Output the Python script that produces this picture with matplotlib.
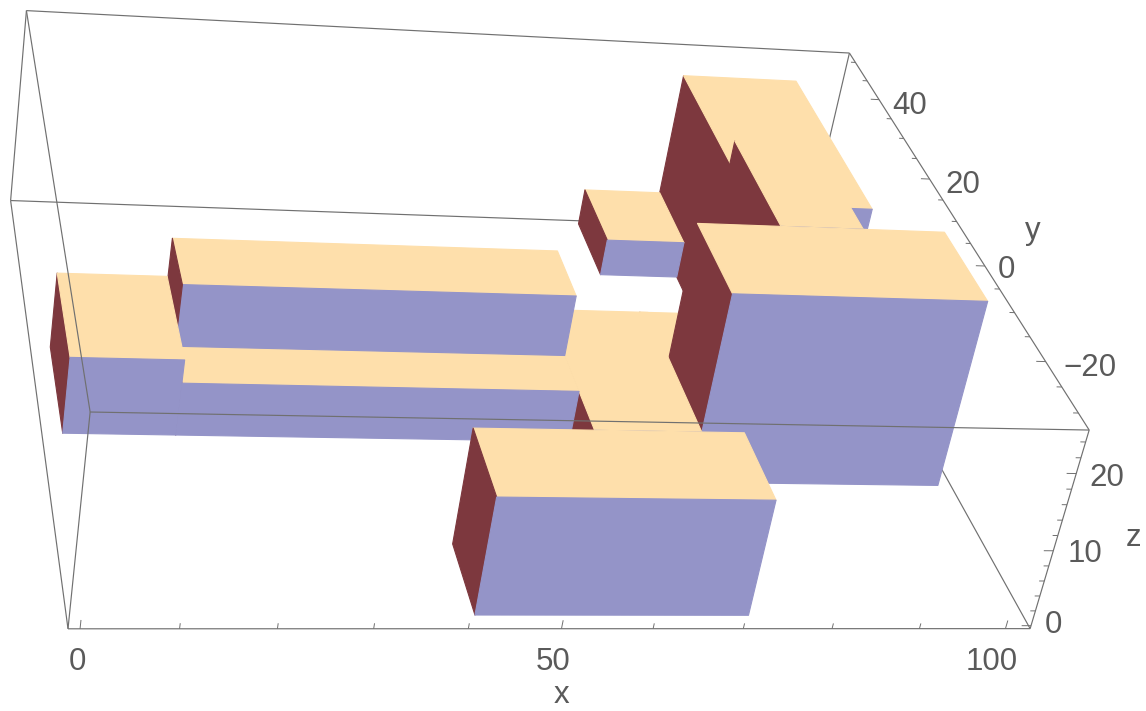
import numpy as np
import matplotlib
matplotlib.use('Agg')
import matplotlib.pyplot as plt
from mpl_toolkits.mplot3d.art3d import Poly3DCollection, Line3DCollection

plt.rcParams['font.family'] = ['Liberation Sans', 'DejaVu Sans']

# boxes, listed back to front
box_x_start = [81, 81, 71, 70, 71, 58.5, 13.4, 13.5, 1, 41]
box_x_end = [96, 91, 81, 81, 101, 71, 58.5, 58.5, 13.4, 71]
box_y_start = [18.6, 8.45, 38.5, 8.45, -6.75, -6.75, 1.1, 8.6, 1.1, -31.4]
box_y_end = [51.1, 28.6, 51.1, 18.6, 8.45, 18.6, 18.6, 18.6, 18.6, -18.9]
box_z_start = [0, 0, 0, 0, 0, 0, 0, 6.8, 0, 0]
box_z_end = [21.9, 24.9, 5, 6.8, 24.9, 6.8, 6.8, 14.8, 9.8, 14.9]

x_range = [-1.2, 102.9]
y_range = [-33.2, 52.6]
z_range = [-0.4, 25.5]

x_ticks = list(range(0, 101, 10))
x_major = [0, 50, 100]
y_ticks = list(range(-30, 51, 5))
y_major = [-20, 0, 20, 40]
z_ticks = list(range(0, 25, 2))
z_major = [0, 10, 20]

TOP = '#fedfab'
FRONT = '#9494c8'
LEFT = '#7d383e'
LINE = '#707070'
TEXT = '#5a5a5a'
FS = 22.5

# camera of the original view, world -> picture pixels
camera = np.array([
    [9.274070, -0.587302, 0.649457, 54.25983],
    [0.4851393, -4.083765, -8.291662, 438.38702],
    [7.741259e-4, 2.463810e-3, -1.491933e-3, 0.9992724],
])
M = np.array([camera[0], camera[1], [0, 0, 0, -1.0], camera[2]])


def project(x, y, z):
    h = camera @ np.array([x, y, z, 1.0])
    return h[0] / h[2], h[1] / h[2]


W, H = 1146, 711
fig = plt.figure(figsize=(W / 100, H / 100), dpi=100)
ax = fig.add_axes([0, (H - W) / 2 / H, 1, W / H], projection='3d', computed_zorder=False)
ax.get_proj = lambda: M
ax.viewLim.intervalx = (0, W)
ax.viewLim.intervaly = ((W + H) / 2, (H - W) / 2)
ax.set_axis_off()


def segments(segs, zorder, lw):
    ax.add_collection3d(Line3DCollection(segs, colors=LINE, linewidths=lw, zorder=zorder),
                        autolim=False)


x0, x1 = x_range
y0, y1 = y_range
z0, z1 = z_range

# frame edges hidden by the boxes
segments([[(x0, y1, z0), (x1, y1, z0)], [(x1, y1, z0), (x1, y1, z1)], [(x1, y1, z0), (x1, y0, z0)]], 0, 0.85)

for i in range(len(box_x_start)):
    xa, xb = box_x_start[i], box_x_end[i]
    ya, yb = box_y_start[i], box_y_end[i]
    za, zb = box_z_start[i], box_z_end[i]
    faces = [
        [(xa, ya, za), (xb, ya, za), (xb, ya, zb), (xa, ya, zb)],
        [(xa, ya, za), (xa, yb, za), (xa, yb, zb), (xa, ya, zb)],
        [(xa, ya, zb), (xb, ya, zb), (xb, yb, zb), (xa, yb, zb)],
    ]
    colors = [FRONT, LEFT, TOP]
    ax.add_collection3d(Poly3DCollection(faces, facecolors=colors, edgecolors=colors,
                                         linewidths=0.8, zorder=i + 1), autolim=False)

# frame edges in front of the boxes
segments([[(x0, y0, z0), (x1, y0, z0)], [(x1, y0, z0), (x1, y0, z1)],
          [(x0, y0, z1), (x1, y0, z1)], [(x0, y0, z0), (x0, y0, z1)],
          [(x1, y0, z1), (x1, y1, z1)], [(x0, y1, z1), (x1, y1, z1)],
          [(x0, y0, z1), (x0, y1, z1)], [(x0, y0, z0), (x0, y1, z0)],
          [(x0, y1, z0), (x0, y1, z1)]], 20, 0.85)

# ticks
tick_segs = []
for t in x_ticks:
    tick_segs.append([(t, y0, z0), (t, y0, z0 + (1.1 if t in x_major else 0.7))])
for t in y_ticks:
    tick_segs.append([(x1, t, z1), (x1 - (1.1 if t in y_major else 0.6), t, z1)])
for t in z_ticks:
    tick_segs.append([(x1, y0, t), (x1 - (1.1 if t in z_major else 0.6), y0, t)])
segments(tick_segs, 21, 0.7)


def label(s, pos, offset):
    ax.annotate(s, xy=project(*pos), xytext=offset, textcoords='offset pixels',
                ha='center', va='center', color=TEXT, fontsize=FS, annotation_clip=False)


x_offsets = [(-3, -33), (-8, -33), (-14, -33)]
y_offsets = [(44, -6), (22, -4), (33, -6), (31, -6)]
z_offsets = [(22, 1), (32, -3), (31, -4)]
for t, off in zip(x_major, x_offsets):
    label(str(t), (t, y0, z0), off)
for t, off in zip(y_major, y_offsets):
    label(str(t).replace('-', '\u2212'), (x1, t, z1), off)
for t, off in zip(z_major, z_offsets):
    label(str(t), (x1, y0, t), off)

label('x', (50, y0, z0), (0, -66))
label('y', (x1, 10, z1), (76, -9))
label('z', (x1, y0, 12), (76, -2))

fig.savefig('out.png', dpi=100)
